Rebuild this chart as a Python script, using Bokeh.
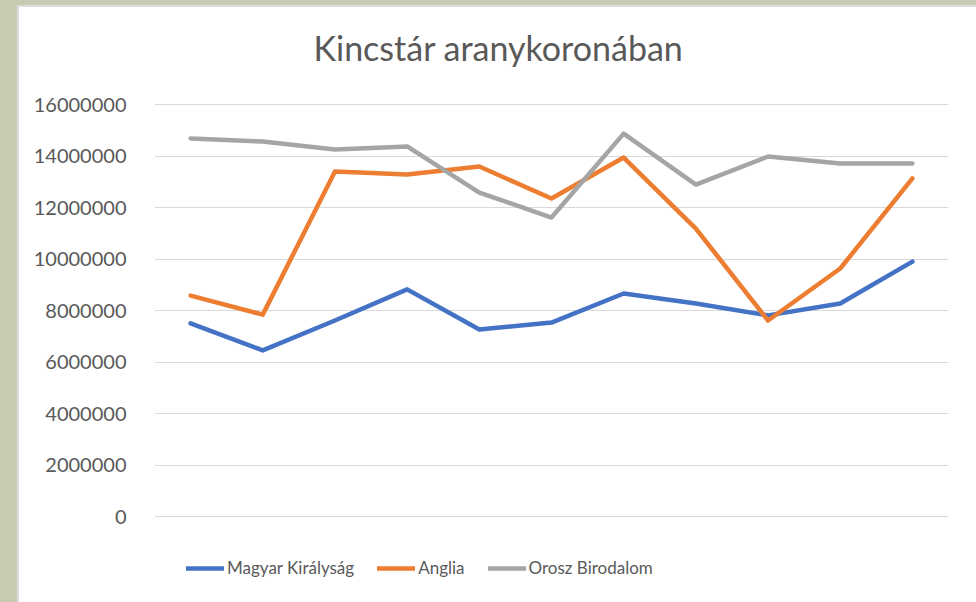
from bokeh.plotting import figure
from bokeh.models import (FactorRange, Range1d, FixedTicker, NumeralTickFormatter,
                          Legend, LegendItem, Div, Label)
from bokeh.layouts import row, column
from bokeh.embed import file_html
from bokeh.resources import INLINE

categories = ["1", "2", "3", "4", "5", "6", "7", "8", "9", "10", "11"]
magyar = [7500000, 6450000, 7610000, 8820000, 7260000, 7530000, 8660000, 8270000, 7810000, 8270000, 9900000]
anglia = [8580000, 7840000, 13400000, 13280000, 13590000, 12350000, 13940000, 11180000, 7610000, 9630000, 13130000]
orosz = [14680000, 14560000, 14250000, 14370000, 12580000, 11610000, 14870000, 12890000, 13980000, 13710000, 13710000]
y_ticks = [0, 2000000, 4000000, 6000000, 8000000, 10000000, 12000000, 14000000, 16000000]
series_names = ["Magyar Királyság", "Anglia", "Orosz Birodalom"]
colors = ["#4472C4", "#ED7D31", "#A5A5A5"]
title_text = "Kincstár aranykoronában"

FONT = "Lato"
TXT = "#595959"
GREEN = "#C8CBB2"
EDGE = "#DCDCE0"

# the frame covers the whole chart height (room for title above and legend below)
AXIS_TOP = 16000000
PX = AXIS_TOP / 412.0          # value per pixel
Y_MAX = AXIS_TOP + 97 * PX
Y_MIN = -86 * PX

p = figure(x_range=FactorRange(*categories, range_padding=0), y_range=Range1d(Y_MIN, Y_MAX),
           width=957, height=595, output_backend="svg", toolbar_location=None,
           min_border_left=135, min_border_right=28, min_border_top=0, min_border_bottom=0)
p.x_range.factor_padding = 0
p.outline_line_color = None
p.background_fill_color = "white"
p.border_fill_color = "white"

renderers = []
for vals, c in zip([magyar, anglia, orosz], colors):
    r = p.line(categories, vals, line_color=c, line_width=4.5, line_join="round", line_cap="round")
    renderers.append(r)

p.xaxis.visible = False
p.xgrid.visible = False
p.ygrid.grid_line_color = "#D9D9D9"
p.ygrid.grid_line_width = 1
p.yaxis.ticker = FixedTicker(ticks=y_ticks)
p.yaxis.formatter = NumeralTickFormatter(format="0")
p.yaxis.axis_line_color = None
p.yaxis.major_tick_line_color = None
p.yaxis.minor_tick_line_color = None
p.yaxis.major_label_standoff = 22
p.yaxis.major_label_text_font = FONT
p.yaxis.major_label_text_font_size = "20px"
p.yaxis.major_label_text_color = TXT

title = Label(x=344, y=555, x_units="screen", y_units="screen", text=title_text,
              text_font=FONT, text_font_size="34px", text_color=TXT,
              text_align="center", text_baseline="alphabetic")
p.add_layout(title)

legend = Legend(items=[LegendItem(label=n, renderers=[r]) for n, r in zip(series_names, renderers)],
                location=(32, 24), orientation="horizontal", glyph_width=38, glyph_height=20,
                label_standoff=3, spacing=23, padding=0, margin=0,
                label_text_font=FONT, label_text_font_size="17px", label_text_color=TXT,
                border_line_color=None, background_fill_alpha=0)
p.add_layout(legend)

top = Div(width=976, height=5, margin=0, styles={"background-color": GREEN})
left = Div(width=17, height=597, margin=0, styles={"background-color": GREEN})
edge_top = Div(width=959, height=2, margin=0, styles={"background-color": EDGE})
edge_left = Div(width=2, height=595, margin=0, styles={"background-color": EDGE})
layout = column(top, row(left, column(edge_top, row(edge_left, p, spacing=0), spacing=0), spacing=0), spacing=0)

open("out.html", "w").write(file_html(layout, INLINE))
